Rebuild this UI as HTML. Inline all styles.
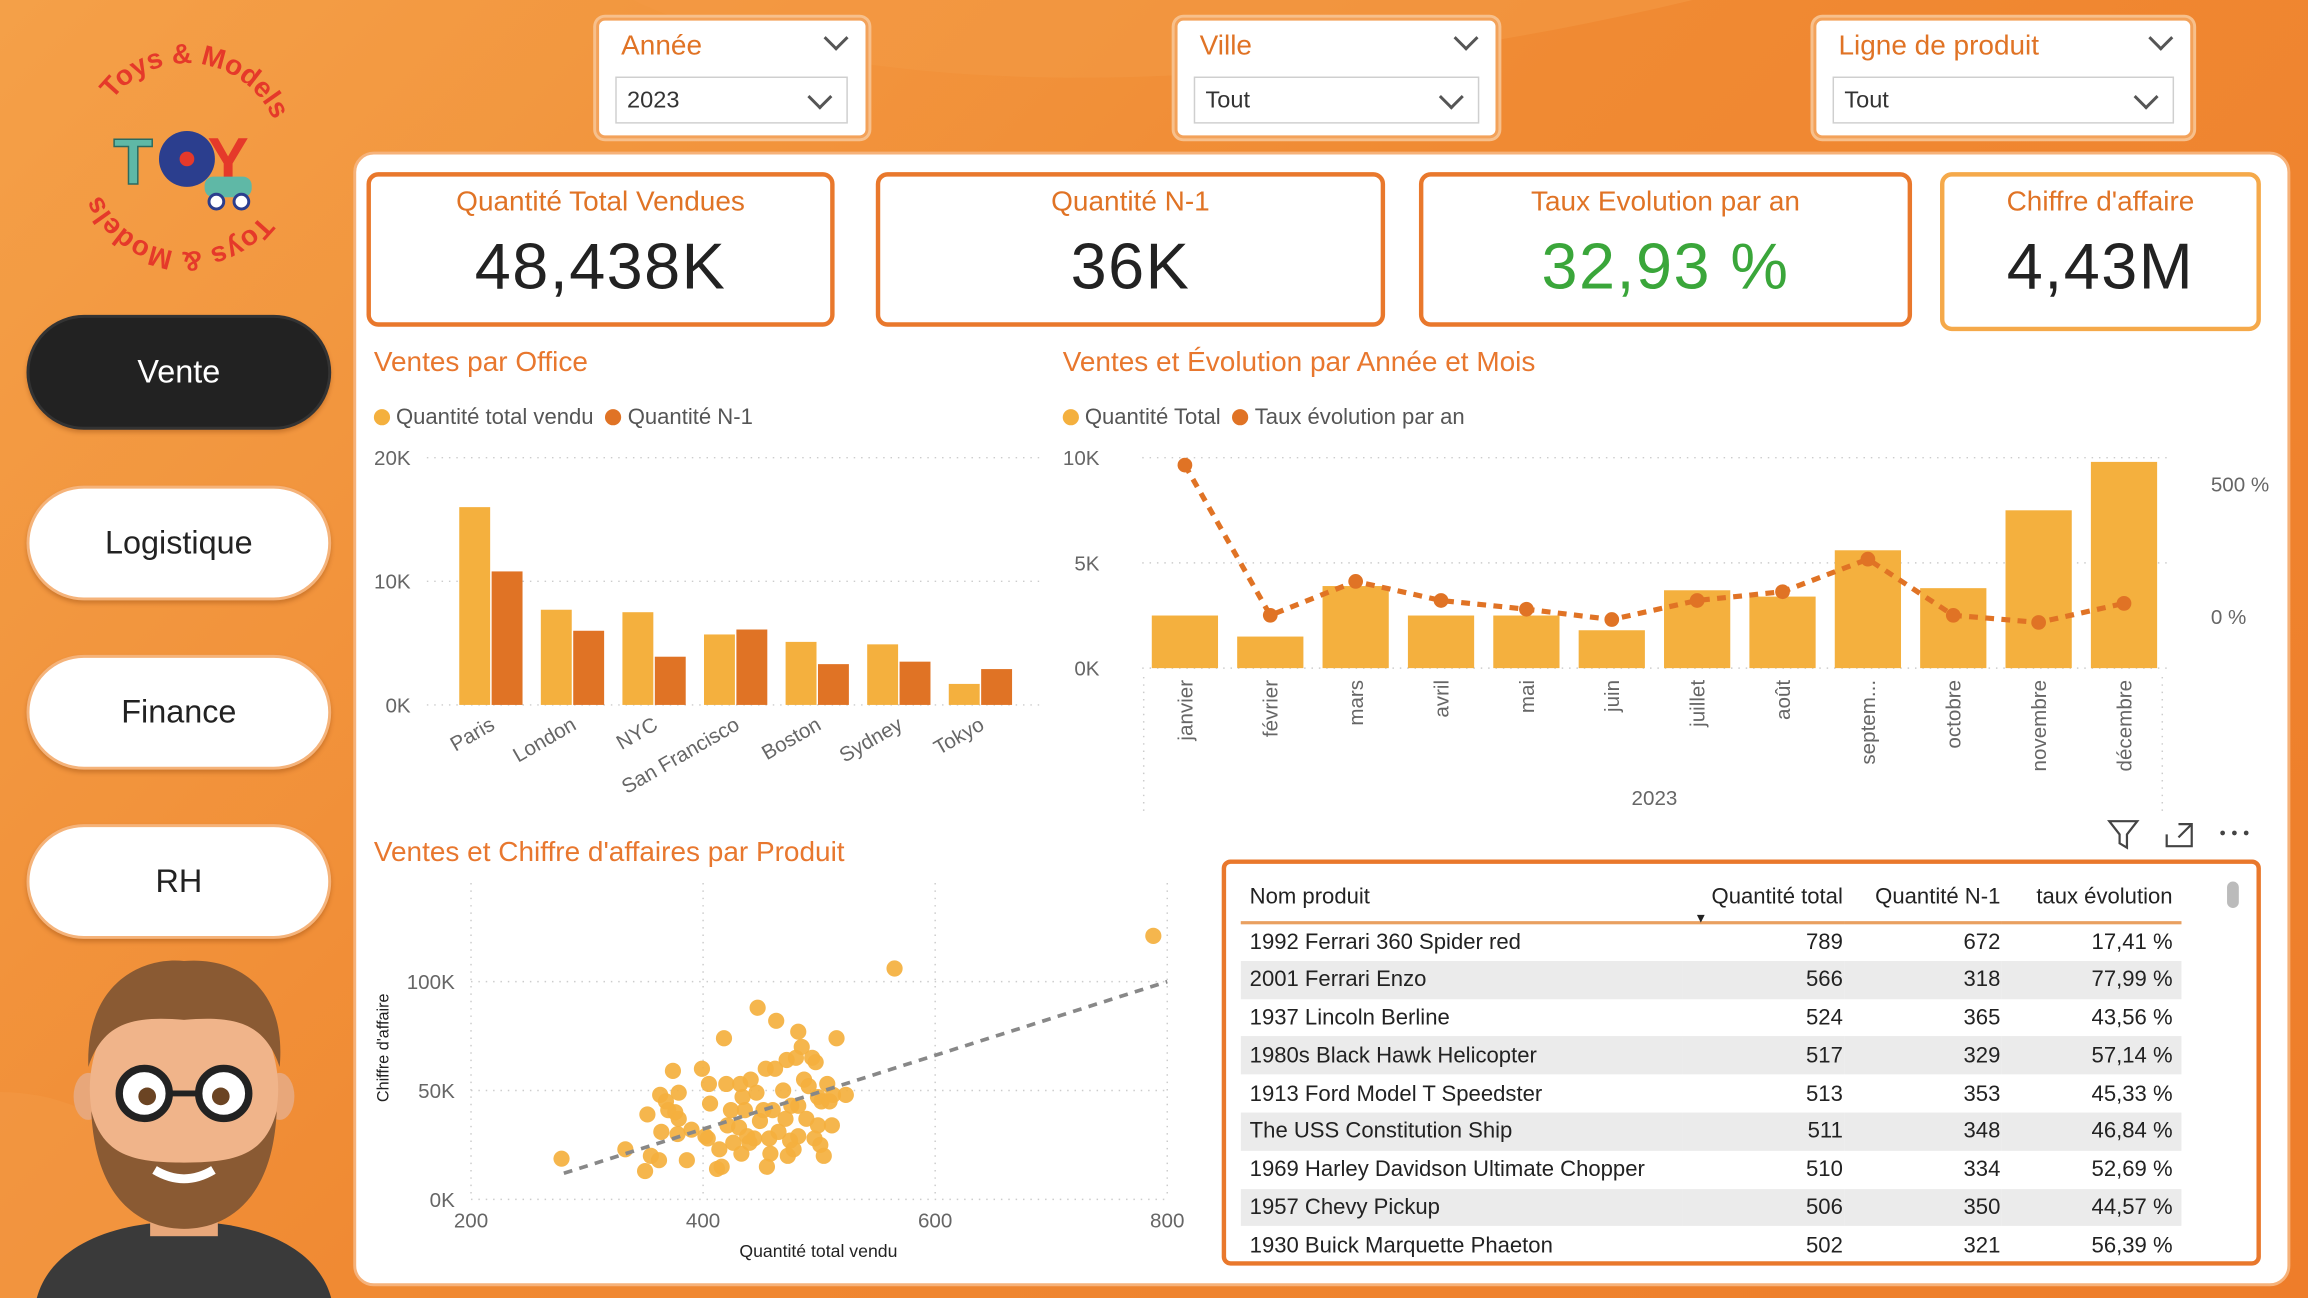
<!DOCTYPE html>
<html><head><meta charset="utf-8">
<style>
html,body{margin:0;padding:0;width:2308px;height:1298px;overflow:hidden;background:#f08a33;}
#root{position:absolute;left:0;top:0;width:1568px;height:882px;transform:scale(1.47194,1.47166);transform-origin:0 0;
 font-family:"Liberation Sans",sans-serif;background:linear-gradient(135deg,#f4a048 0%,#f08a33 45%,#ee7d2a 100%);overflow:hidden;}
.abs{position:absolute;}
.slicer{position:absolute;background:#fff;border:2px solid #f3a25a;border-radius:6px;box-shadow:0 0 0 2px #f7c08c;}
.slicer .lbl{position:absolute;left:15px;top:7px;font-size:19px;color:#e07325;}
.slicer .chev{position:absolute;top:6px;right:14px;width:10px;height:10px;border-right:2px solid #555;border-bottom:2px solid #555;transform:rotate(45deg);}
.slicer .dd{position:absolute;left:11px;top:38px;height:32px;border:1px solid #cfcfcf;font-size:16px;color:#333;line-height:32px;padding-left:7px;box-sizing:border-box;}
.slicer .dd .chev{top:7px;right:12px;}
.card{position:absolute;background:#fff;border:3px solid #e9782c;border-radius:8px;box-sizing:border-box;text-align:center;}
.card .t{font-size:19px;color:#e07325;margin-top:7px;}
.card .v{font-size:44px;color:#222;margin-top:8px;letter-spacing:1px;}
.nav{position:absolute;left:18px;width:207px;height:78px;border-radius:40px;background:#fff;border:2px solid #f5b37a;box-sizing:border-box;text-align:center;line-height:74px;font-size:22px;color:#222;box-shadow:0 2px 3px rgba(120,50,0,.3);}
.title{position:absolute;font-size:19px;color:#e8772e;}
.leg{position:absolute;font-size:15px;color:#555;}
.dot{display:inline-block;width:11px;height:11px;border-radius:50%;margin-right:4px;vertical-align:-1px;}
table{border-collapse:collapse;table-layout:fixed;}
</style></head><body>
<div id="root">
  <svg class="abs" style="left:0;top:0" width="1568" height="882">
    <path d="M430 0 C 600 80 900 60 1150 0 Z" fill="#f39a45" opacity=".6"/>
    <circle cx="0" cy="882" r="140" fill="#f39a45" opacity=".5"/>
  </svg>

  <!-- logo -->
  <svg class="abs" style="left:35px;top:15px" width="180" height="180" viewBox="0 0 180 180">
    <defs>
      <path id="circ" d="M28 92 A 64 64 0 1 1 156 92 A 64 64 0 1 1 28 92"/>
    </defs>
    <text font-family="Liberation Sans" font-weight="bold" font-size="19" fill="#e5392a" text-anchor="middle"><textPath href="#circ" startOffset="27%">Toys &amp; Models</textPath></text>
    <text font-family="Liberation Sans" font-weight="bold" font-size="19" fill="#e5392a" text-anchor="middle"><textPath href="#circ" startOffset="77%">Toys &amp; Models</textPath></text>
    <text x="42" y="110" font-family="Liberation Sans" font-weight="bold" font-size="44" fill="#5fb8a6" stroke="#2b6a60" stroke-width="1">T</text>
    <circle cx="92" cy="93" r="19" fill="#2b3e8e"/><circle cx="92" cy="93" r="5" fill="#e5392a"/>
    <text x="106" y="108" font-family="Liberation Sans" font-weight="bold" font-size="42" fill="#e5392a">Y</text>
    <rect x="104" y="105" width="32" height="14" rx="6" fill="#5fb8a6"/>
    <circle cx="112" cy="122" r="5" fill="#fff" stroke="#2b3e8e" stroke-width="2"/><circle cx="129" cy="122" r="5" fill="#fff" stroke="#2b3e8e" stroke-width="2"/>
  </svg>

  <div class="nav" style="top:214px;background:#222;color:#fff;border-color:#333;">Vente</div>
  <div class="nav" style="top:330px">Logistique</div>
  <div class="nav" style="top:445px">Finance</div>
  <div class="nav" style="top:560px">RH</div>

  <svg class="abs" style="left:20px;top:645px" width="210" height="237" viewBox="0 0 210 237">
    <path d="M5 237 C 15 200 60 185 105 185 C 150 185 195 200 205 237 Z" fill="#3a3a3a"/>
    <rect x="82" y="150" width="46" height="45" fill="#e8a77a"/>
    <ellipse cx="40" cy="100" rx="10" ry="16" fill="#e8a77a"/>
    <ellipse cx="170" cy="100" rx="10" ry="16" fill="#e8a77a"/>
    <ellipse cx="105" cy="95" rx="64" ry="75" fill="#f0b48a"/>
    <path d="M42 110 C 45 175 80 190 105 190 C 130 190 165 175 168 110 C 160 140 140 145 105 145 C 70 145 50 140 42 110 Z" fill="#8a5a33"/>
    <path d="M40 80 C 38 20 80 5 105 8 C 140 5 175 25 170 80 C 160 50 140 45 105 48 C 70 45 50 50 40 80 Z" fill="#8a5a33"/>
    <circle cx="78" cy="98" r="17" fill="#fff" stroke="#222" stroke-width="5"/>
    <circle cx="132" cy="98" r="17" fill="#fff" stroke="#222" stroke-width="5"/>
    <line x1="95" y1="98" x2="115" y2="98" stroke="#222" stroke-width="4"/>
    <circle cx="80" cy="100" r="6" fill="#6b4423"/><circle cx="130" cy="100" r="6" fill="#6b4423"/>
    <path d="M85 150 Q105 162 125 150" stroke="#fff" stroke-width="6" fill="none"/>
  </svg>

  <div class="slicer" style="left:405px;top:12px;width:181px;height:78px">
    <div class="lbl">Année</div><div class="chev"></div>
    <div class="dd" style="width:158px">2023<div class="chev"></div></div>
  </div>
  <div class="slicer" style="left:798px;top:12px;width:216px;height:78px">
    <div class="lbl">Ville</div><div class="chev"></div>
    <div class="dd" style="width:194px">Tout<div class="chev"></div></div>
  </div>
  <div class="slicer" style="left:1232px;top:12px;width:254px;height:78px">
    <div class="lbl">Ligne de produit</div><div class="chev"></div>
    <div class="dd" style="width:232px">Tout<div class="chev"></div></div>
  </div>

  <div class="abs" style="left:240px;top:103px;width:1316px;height:771px;background:#fff;border-radius:14px;border:2px solid #f6b27a;box-sizing:border-box"></div>

  <div class="card" style="left:249px;top:117px;width:318px;height:105px"><div class="t">Quantité Total Vendues</div><div class="v">48,438K</div></div>
  <div class="card" style="left:595px;top:117px;width:346px;height:105px"><div class="t">Quantité N-1</div><div class="v">36K</div></div>
  <div class="card" style="left:964px;top:117px;width:335px;height:105px"><div class="t">Taux Evolution par an</div><div class="v" style="color:#3aa63a">32,93 %</div></div>
  <div class="card" style="left:1318px;top:117px;width:218px;height:108px;border-color:#f5a94a"><div class="t">Chiffre d'affaire</div><div class="v">4,43M</div></div>

  <div class="title" style="left:254px;top:236px">Ventes par Office</div>
  <div class="leg" style="left:254px;top:275px"><span class="dot" style="background:#f4b03e"></span>Quantité total vendu <span class="dot" style="background:#e07325;margin-left:4px"></span>Quantité N-1</div>
  <div class="title" style="left:722px;top:236px">Ventes et Évolution par Année et Mois</div>
  <div class="leg" style="left:722px;top:275px"><span class="dot" style="background:#f4b03e"></span>Quantité Total <span class="dot" style="background:#e07325;margin-left:4px"></span>Taux évolution par an</div>
  <div class="title" style="left:254px;top:569px">Ventes et Chiffre d'affaires par Produit</div>

  <svg id="officeChart" class="abs" style="left:0;top:0" width="1568" height="882"></svg>

  <svg class="abs" style="left:1430px;top:555px" width="110" height="24">
    <path d="M3 3 H22 L15 12 V21 L10 18 V12 Z" fill="none" stroke="#444" stroke-width="1.5"/>
    <path d="M42 12 V20 H59 V5 H50 M52 5 H59 V12 M59 5 L50 14" fill="none" stroke="#444" stroke-width="1.5"/>
    <circle cx="80" cy="11" r="1.6" fill="#444"/><circle cx="88" cy="11" r="1.6" fill="#444"/><circle cx="96" cy="11" r="1.6" fill="#444"/>
  </svg>
  <div class="abs" style="left:830px;top:584px;width:706px;height:276px;border:3px solid #e9782c;border-radius:6px;box-sizing:border-box;background:#fff;overflow:hidden">
    <div style="position:absolute;right:12px;top:12px;width:8px;height:18px;background:#bbb;border-radius:4px"></div>
    <table style="position:absolute;left:10px;top:6px;width:639px;font-size:15px;color:#222">
      <colgroup><col style="width:300px"><col style="width:110px"><col style="width:107px"><col style="width:122px"></colgroup>
      <tr style="height:34px;border-bottom:2px solid #e9a060">
        <td style="padding-left:6px">Nom produit</td>
        <td style="text-align:right;position:relative;white-space:nowrap">Quantité total<span style="position:absolute;left:8px;top:26px;font-size:9px">▼</span></td>
        <td style="text-align:right;white-space:nowrap">Quantité N-1</td>
        <td style="text-align:right;padding-right:6px;white-space:nowrap">taux évolution</td>
      </tr>
      <tbody id="tbody"></tbody>
    </table>
  </div>
</div>
<script>
const offices = ["Paris","London","NYC","San Francisco","Boston","Sydney","Tokyo"];
const qtyTotal = [16000,7700,7500,5700,5100,4900,1700];
const qtyN1 = [10800,6000,3900,6100,3300,3500,2900];
const officeTicks = [0,10000,20000];
const officeTickLabels = ["0K","10K","20K"];

const months = ["janvier","février","mars","avril","mai","juin","juillet","août","septem...","octobre","novembre","décembre"];
const monthQty = [2500,1500,3900,2500,2500,1800,3700,3400,5600,3800,7500,9800];
const monthRate = [572,5,133,61,28,-11,61,94,217,5,-22,50];
const monthTicks = [0,5000,10000];
const monthTickLabels = ["0K","5K","10K"];
const rateTicks = [0,500];
const rateTickLabels = ["0 %","500 %"];

const scatterQty = [278,333,352,350,355,362,363,364,368,370,374,376,379,379,378,386,390,399,402,404,405,406,412,414,416,418,420,421,424,426,431,432,433,434,436,438,440,441,444,446,447,449,452,454,455,457,458,460,462,463,465,469,471,472,473,475,476,478,480,482,482,482,485,487,489,491,494,496,497,499,499,501,502,504,507,509,511,512,515,523,565,788];
const scatterCA = [18.7,23,39,13,20,18,48,31,45,41,59,40,49,37,30,18,32,60,29,28,53,44,14,23,15,74,53,34,41,26,33,53,21,47,41,29,26,55,28,49,88,36,41,60,15,28,21,41,60,82,31,50,37,64,20,27,43,23,65,77,29,43,70,55,37,52,65,28,63,34,47,25,45,20,53,45,34,48,74,48,106,121];
const trendStart = [280,12];
const trendEnd = [800,100];
const scatterXTicks = [200,400,600,800];
const scatterYTicks = [0,50,100];
const scatterYLabels = ["0K","50K","100K"];

const prodNames = ["1992 Ferrari 360 Spider red","2001 Ferrari Enzo","1937 Lincoln Berline","1980s Black Hawk Helicopter","1913 Ford Model T Speedster","The USS Constitution Ship","1969 Harley Davidson Ultimate Chopper","1957 Chevy Pickup","1930 Buick Marquette Phaeton"];
const prodQty = [789,566,524,517,513,511,510,506,502];
const prodN1 = [672,318,365,329,353,348,334,350,321];
const prodRate = ["17,41 %","77,99 %","43,56 %","57,14 %","45,33 %","46,84 %","52,69 %","44,57 %","56,39 %"];

const NS="http://www.w3.org/2000/svg";
const svg=document.getElementById('officeChart');
function mk(tag,attrs,parent){const e=document.createElementNS(NS,tag);for(const k in attrs)e.setAttribute(k,attrs[k]);(parent||svg).appendChild(e);return e;}
function txt(x,y,s,attrs,parent){const t=mk('text',Object.assign({x:x,y:y,'font-family':'Liberation Sans, sans-serif','font-size':14,fill:'#666'},attrs||{}),parent);t.textContent=s;return t;}

const oX0=290,oX1=706,oY0=479,oY1=311,oMax=20000;
const oy=v=>oY0-(v/oMax)*(oY0-oY1);
const groupW=(688-300)/offices.length;
const ox=i=>300+groupW*i;
officeTicks.forEach((t,i)=>{
  mk('line',{x1:oX0,x2:oX1,y1:oy(t),y2:oy(t),stroke:'#ccc','stroke-dasharray':'1,4'});
  const l=txt(279,oy(t)+5,officeTickLabels[i],{'text-anchor':'end'});
  
  
});
offices.forEach((o,i)=>{
  const bw=21,x=ox(i)+12;
  const b1=mk('rect',{x:x,y:oy(qtyTotal[i]),width:bw,height:oY0-oy(qtyTotal[i]),fill:'#f4b03e'});
  
  
  const b2=mk('rect',{x:x+bw+1,y:oy(qtyN1[i]),width:bw,height:oY0-oy(qtyN1[i]),fill:'#e07325'});
  
  
  const cx=x+bw;
  const l=txt(cx+4,495,o,{'text-anchor':'end',transform:`rotate(-30 ${cx+4} 495)`});
  
  
});

const mX0=776,mX1=1475,mY0=454,mY1=311,mMax=10000;
const my=v=>mY0-(v/mMax)*(mY0-mY1);
const ry=v=>419-(v/500)*90;
const mStep=(1472-776)/months.length;
const mx=i=>776+mStep*(i+0.5);
monthTicks.forEach((t,i)=>{
  mk('line',{x1:mX0,x2:mX1,y1:my(t),y2:my(t),stroke:'#ccc','stroke-dasharray':'1,4'});
  const l=txt(747,my(t)+5,monthTickLabels[i],{'text-anchor':'end'});
  
  
});
rateTicks.forEach((t,i)=>{
  const l=txt(1502,ry(t)+5,rateTickLabels[i],{});
  
  
});
mk('line',{x1:777,x2:777,y1:460,y2:552,stroke:'#ccc','stroke-dasharray':'1,4'});
mk('line',{x1:1469,x2:1469,y1:460,y2:552,stroke:'#ccc','stroke-dasharray':'1,4'});
months.forEach((m,i)=>{
  const bw=45;
  const b=mk('rect',{x:mx(i)-bw/2,y:my(monthQty[i]),width:bw,height:mY0-my(monthQty[i]),fill:'#f4b03e'});
  
  
  const l=txt(mx(i)+5,462,m,{'text-anchor':'end',transform:`rotate(-90 ${mx(i)+5} 462)`});
  
  
});
const yr=txt(1124,547,'2023',{'text-anchor':'middle'});


const pl=mk('polyline',{points:monthRate.map((v,i)=>mx(i)+','+ry(v)).join(' '),fill:'none',stroke:'#e07325','stroke-width':3.5,'stroke-dasharray':'6,5'});


monthRate.forEach((v,i)=>{
  const c=mk('circle',{cx:mx(i),cy:ry(v),r:5,fill:'#e07325'});
  
  
});

const sx=v=>320+(v-200)*(793-320)/600;
const sy=v=>815-v*(815-667)/100;
scatterXTicks.forEach(t=>{
  mk('line',{x1:sx(t),x2:sx(t),y1:600,y2:815,stroke:'#ccc','stroke-dasharray':'1,4'});
  const l=txt(sx(t),834,String(t),{'text-anchor':'middle'});
  
  
});
scatterYTicks.forEach((t,i)=>{
  mk('line',{x1:320,x2:793,y1:sy(t),y2:sy(t),stroke:'#ccc','stroke-dasharray':'1,4'});
  const l=txt(309,sy(t)+5,scatterYLabels[i],{'text-anchor':'end'});
  
  
});
const xt=txt(556,854,"Quantité total vendu",{'text-anchor':'middle','font-size':12,fill:'#222'});


const yt=txt(264,712,"Chiffre d'affaire",{'text-anchor':'middle','font-size':11,fill:'#222',transform:'rotate(-90 264 712)'});


scatterQty.forEach((q,i)=>{
  const c=mk('circle',{cx:sx(q),cy:sy(scatterCA[i]),r:5.5,fill:'#f4b03e','fill-opacity':0.92});
  
  
});
const tl=mk('line',{x1:sx(trendStart[0]),y1:sy(trendStart[1]),x2:sx(trendEnd[0]),y2:sy(trendEnd[1]),stroke:'#888','stroke-width':2.5,'stroke-dasharray':'6,5'});



const tb=document.getElementById('tbody');
prodNames.forEach((n,i)=>{
  const tr=document.createElement('tr');
  
  
  tr.style.height='25.8px';
  if(i%2===1)tr.style.background='#ebebeb';
  tr.innerHTML=`<td style="padding-left:6px;white-space:nowrap">${n}</td><td style="text-align:right">${prodQty[i]}</td><td style="text-align:right">${prodN1[i]}</td><td style="text-align:right;padding-right:6px">${prodRate[i]}</td>`;
  tb.appendChild(tr);
});
</script>
</body></html>
